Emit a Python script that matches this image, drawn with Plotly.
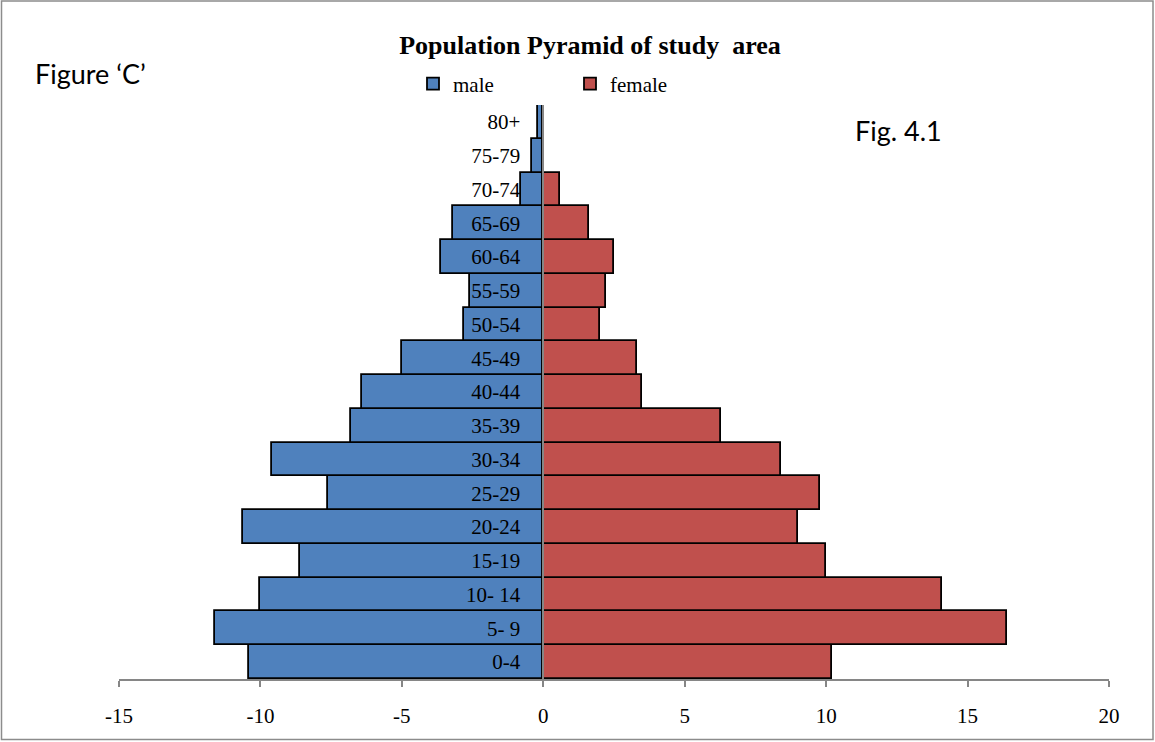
import plotly.graph_objects as go

age_groups = ["0-4", "5- 9", "10- 14", "15-19", "20-24", "25-29", "30-34", "35-39",
              "40-44", "45-49", "50-54", "55-59", "60-64", "65-69", "70-74", "75-79", "80+"]
male = [-10.4, -11.6, -10.0, -8.6, -10.6, -7.6, -9.6, -6.8,
        -6.4, -5.0, -2.8, -2.6, -3.6, -3.2, -0.8, -0.4, -0.2]
female = [10.2, 16.4, 14.1, 10.0, 9.0, 9.8, 8.4, 6.3,
          3.5, 3.3, 2.0, 2.2, 2.5, 1.6, 0.6, 0.0, 0.0]
x_ticks = [-15, -10, -5, 0, 5, 10, 15, 20]
x_tick_labels = ["-15", "-10", "-5", "0", "5", "10", "15", "20"]

W, H = 1155, 742
L, R, T, B = 119, 46, 105, 63
pw, ph = W - L - R, H - T - B

def px(x):
    return (x - L) / pw

def py(y):
    return (H - B - y) / ph

serif = "Liberation Serif"
sans = "Lato"

fig = go.Figure()
fig.add_trace(go.Bar(y=age_groups, x=male, orientation="h", name="male",
                     marker=dict(color="#4F81BD", line=dict(color="black", width=1.8))))
fig.add_trace(go.Bar(y=age_groups, x=female, orientation="h", name="female",
                     marker=dict(color="#C0504D", line=dict(color="black", width=1.8))))

xmin, xmax = -15, 20
zero_frac = (0 - xmin) / (xmax - xmin)

fig.update_layout(
    width=W, height=H,
    margin=dict(l=L, r=R, t=T, b=B),
    paper_bgcolor="white", plot_bgcolor="white",
    barmode="overlay", bargap=0,
    title=dict(text="<b>Population Pyramid of study  area</b>", x=590 / W, xanchor="center",
               y=1 - 45 / H, yanchor="middle", font=dict(family=serif, size=26, color="black")),
    legend=dict(orientation="h", x=px(413), xanchor="left", y=py(84), yanchor="middle",
                font=dict(family=serif, size=21, color="black"), entrywidth=112,
                entrywidthmode="pixels", itemwidth=30, traceorder="normal",
                bgcolor="rgba(0,0,0,0)"),
    xaxis=dict(range=[xmin, xmax], tickvals=x_ticks, ticktext=x_tick_labels,
               ticks="outside", ticklen=6,
               tickcolor="#868686", tickwidth=1.5, showline=True, linecolor="#868686",
               linewidth=1.5, showgrid=False, zeroline=False,
               tickfont=dict(family=serif, size=21, color="black"), ticklabelstandoff=11),
    yaxis=dict(type="category", categoryorder="array", categoryarray=age_groups,
               range=[-0.5, len(age_groups) - 0.5], anchor="free", position=zero_frac,
               showline=True, linecolor="#868686", linewidth=1.5, ticks="",
               showgrid=False, zeroline=False, ticklabelstandoff=18,
               tickfont=dict(family=serif, size=21, color="black")),
    showlegend=True,
)

fig.add_annotation(text="Figure ‘C’", xref="paper", yref="paper", x=px(33), y=py(73),
                   xanchor="left", yanchor="middle", showarrow=False,
                   font=dict(family=sans, size=27, color="black"))
fig.add_annotation(text="Fig. 4.1", xref="paper", yref="paper", x=px(853), y=py(131),
                   xanchor="left", yanchor="middle", showarrow=False,
                   font=dict(family=sans, size=27, color="black"))

fig.add_shape(type="rect", xref="paper", yref="paper", x0=px(1.5), x1=px(1153),
              y0=py(739.5), y1=py(1), line=dict(color="#8c8c8c", width=1.5),
              fillcolor="rgba(0,0,0,0)", layer="above")

fig.write_html("out.html", config={"displayModeBar": False},
               post_script="document.body.style.margin='0';document.body.style.padding='0';")
